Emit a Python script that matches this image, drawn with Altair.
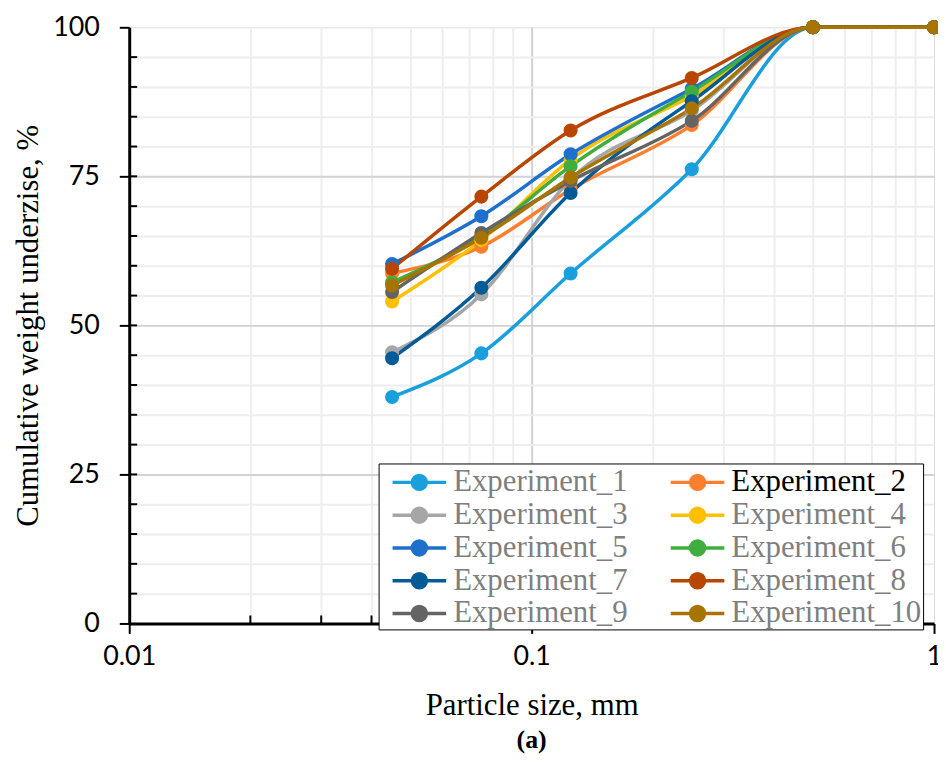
import altair as alt
import pandas as pd

sizes = [0.045, 0.075, 0.125, 0.25, 0.5, 1.0]
names = ["Experiment_1", "Experiment_2", "Experiment_3", "Experiment_4", "Experiment_5",
         "Experiment_6", "Experiment_7", "Experiment_8", "Experiment_9", "Experiment_10"]
exp1 = [38.0, 45.3, 58.7, 76.2, 100, 100]
exp2 = [58.7, 63.2, 72.8, 83.6, 100, 100]
exp3 = [45.5, 55.2, 74.5, 86.0, 100, 100]
exp4 = [54.0, 64.3, 77.8, 88.5, 100, 100]
exp5 = [60.3, 68.3, 78.7, 89.7, 100, 100]
exp6 = [57.2, 65.0, 76.7, 89.2, 100, 100]
exp7 = [44.5, 56.3, 72.2, 87.6, 100, 100]
exp8 = [59.5, 71.6, 82.7, 91.5, 100, 100]
exp9 = [55.6, 65.5, 74.2, 84.3, 100, 100]
exp10 = [56.7, 64.7, 74.8, 86.4, 100, 100]
series = [exp1, exp2, exp3, exp4, exp5, exp6, exp7, exp8, exp9, exp10]
colors = ["#1a9fdd", "#ff7f2f", "#a6a6a6", "#ffc000", "#1e70cd",
          "#40ad3f", "#005b96", "#b84600", "#646464", "#a77400"]

x_major = [0.01, 0.1, 1]
x_minor = [0.02, 0.03, 0.04, 0.05, 0.06, 0.07, 0.08, 0.09, 0.1,
           0.2, 0.3, 0.4, 0.5, 0.6, 0.7, 0.8, 0.9]
y_major = [0, 25, 50, 75, 100]
y_minor = list(range(5, 100, 5))

rows = []
for i, (n, vals) in enumerate(zip(names, series)):
    for s, v in zip(sizes, vals):
        rows.append({"name": n, "order": i, "size": s, "value": v})
df = pd.DataFrame(rows)

W, H = 810, 600
xscale = alt.Scale(type="log", domain=[0.01, 1], nice=False)
yscale = alt.Scale(domain=[0, 100], nice=False)
cscale = alt.Scale(domain=names, range=colors)

grid_x = alt.Axis(orient="top", values=x_minor, labels=False, ticks=False, domain=False,
                  grid=True, title=None,
                  gridColor={"condition": {"test": "datum.value == 0.1", "value": "#d2d2d2"},
                             "value": "#eeeeee"},
                  gridWidth=2)
grid_y = alt.Axis(orient="right", values=y_minor, labels=False, ticks=False, domain=False,
                  grid=True, title=None,
                  gridColor={"condition": {"test": "datum.value % 25 == 0", "value": "#d2d2d2"},
                             "value": "#eeeeee"},
                  gridWidth=2)

main_x = alt.Axis(orient="bottom", values=x_major, grid=False, title="Particle size, mm",
                  labelExpr="datum.value == 1 ? '1' : format(datum.value, '')",
                  tickSize=10, tickWidth=2, tickColor="black", domainColor="black",
                  domainWidth=3, labelFont="Lato", labelFontSize=27, labelColor="black",
                  labelPadding=10, titleFont="Liberation Serif", titleFontSize=31,
                  titleFontWeight="normal", titleColor="black", titlePadding=22,
                  labelFlush=False)
main_y = alt.Axis(orient="left", values=y_major, grid=False,
                  title="Cumulative weight underzise, %",
                  tickSize=10, tickWidth=2, tickColor="black", domainColor="black",
                  domainWidth=3, labelFont="Lato", labelFontSize=27, labelColor="black",
                  labelPadding=20, titleFont="Liberation Serif", titleFontSize=31,
                  titleFontWeight="normal", titleColor="black", titlePadding=8)

legend = alt.Legend(
    title=None, orient="none", legendX=251, legendY=439, columns=2,
    direction="horizontal",
    symbolType=("M-0.31,0L3.06,0M1.815,0A0.44,0.44,0,1,1,0.935,0"
                "A0.44,0.44,0,1,1,1.815,0"),
    symbolSize=1024, symbolStrokeWidth=3.5,
    labelFont="Liberation Serif", labelFontSize=31, labelLimit=300,
    labelColor={"expr": "datum.label == 'Experiment_2' ? 'black' : '#7f7f7f'"},
    strokeColor="black", fillColor="white", padding=1, rowPadding=0,
    columnPadding=30, labelOffset=38,
)

lines = alt.Chart(df).mark_line(strokeWidth=3.5, interpolate="monotone").encode(
    x=alt.X("size:Q", scale=xscale, axis=grid_x),
    y=alt.Y("value:Q", scale=yscale, axis=grid_y),
    color=alt.Color("name:N", scale=cscale, legend=legend),
    order=alt.Order("order:Q"),
)

points = alt.Chart(df).mark_point(filled=True, size=200, opacity=1).encode(
    x=alt.X("size:Q", scale=xscale, axis=main_x),
    y=alt.Y("value:Q", scale=yscale, axis=main_y),
    color=alt.Color("name:N", scale=cscale, legend=legend),
    order=alt.Order("order:Q"),
)

xt = pd.DataFrame({"v": x_minor})
yt = pd.DataFrame({"v": y_minor})
xticks = alt.Chart(xt).mark_rule(color="black", strokeWidth=2).encode(
    x=alt.X("v:Q", scale=xscale, axis=None),
    y=alt.value(H), y2=alt.value(H - 8),
)
yticks = alt.Chart(yt).mark_rule(color="black", strokeWidth=2).encode(
    y=alt.Y("v:Q", scale=yscale, axis=None),
    x=alt.value(0), x2=alt.value(8),
)

chart = alt.layer(lines, xticks, yticks, points).properties(
    width=W, height=H,
    autosize=alt.AutoSizeParams(type="none"),
    padding={"left": 122, "top": 17, "right": 4, "bottom": 135},
    title=alt.Title("(a)", orient="bottom", anchor="middle", font="Liberation Serif",
                    fontSize=26, fontWeight="bold", color="black", offset=6),
).configure_view(stroke="#222222", strokeWidth=1.5).configure_legend(
    strokeWidth=2
).configure(background="white")

chart.save("out.html", embed_options={"renderer": "svg", "actions": False})
